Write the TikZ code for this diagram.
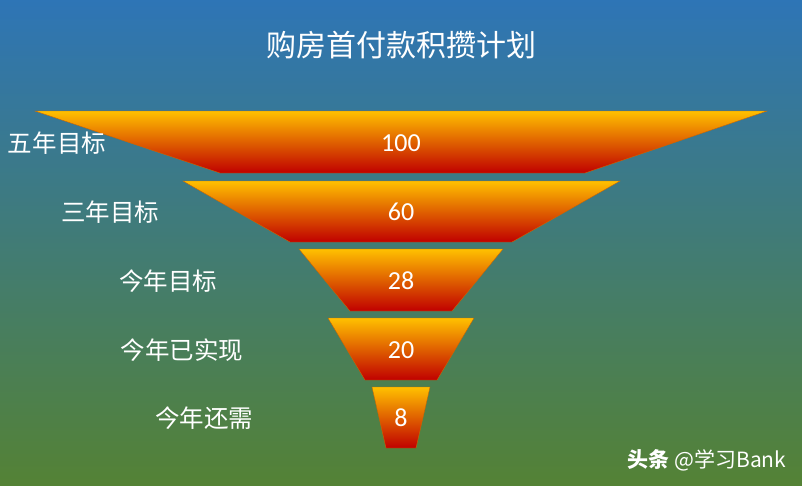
\documentclass[tikz,border=0pt]{standalone}
\usepackage{fontspec}
\setmainfont{Carlito}
\newfontfamily\cjk{Noto Sans CJK SC}
\begin{document}
\begin{tikzpicture}[x=1pt,y=-1pt,
  lbl/.style={text=white,font=\cjk\fontsize{24.5}{26}\selectfont},
  num/.style={text=white,font=\fontsize{26}{28}\selectfont},
  funnel/.style={top color={rgb,255:red,255;green,192;blue,0},bottom color={rgb,255:red,192;green,0;blue,0},draw=orange!80!black,line width=0.4pt}]
\shade[top color={rgb,255:red,46;green,117;blue,182},bottom color={rgb,255:red,84;green,130;blue,53}] (0,0) rectangle (802,485);
\useasboundingbox (0,0) rectangle (802,485);
\node[text=white,font=\cjk\fontsize{30}{32}\selectfont] (title) at (401,45) {购房首付款积攒计划};
\shade[funnel] (35,111) -- (767,111) -- (585,173) -- (220,173) -- cycle;
\shade[funnel] (183,181) -- (620,181) -- (512,242) -- (290,242) -- cycle;
\shade[funnel] (299,249) -- (503,249) -- (452,311) -- (350,311) -- cycle;
\shade[funnel] (328,318) -- (474,318) -- (437,380) -- (365,380) -- cycle;
\shade[funnel] (372,387) -- (430,387) -- (416,448) -- (386,448) -- cycle;
\node[num] (n1) at (401,143) {100};
\node[num] (n2) at (401,212) {60};
\node[num] (n3) at (401,281) {28};
\node[num] (n4) at (401,350) {20};
\node[num] (n5) at (401,418) {8};
\node[lbl] (l1) at (57,143) {五年目标};
\node[lbl] (l2) at (110,212) {三年目标};
\node[lbl] (l3) at (168,281) {今年目标};
\node[lbl] (l4) at (182,350) {今年已实现};
\node[lbl] (l5) at (204,418) {今年还需};
\node[text=white,font=\cjk\fontsize{21}{23}\selectfont] (wm) at (707,460) {\textbf{头条} @学习Bank};
\end{tikzpicture}
\end{document}
